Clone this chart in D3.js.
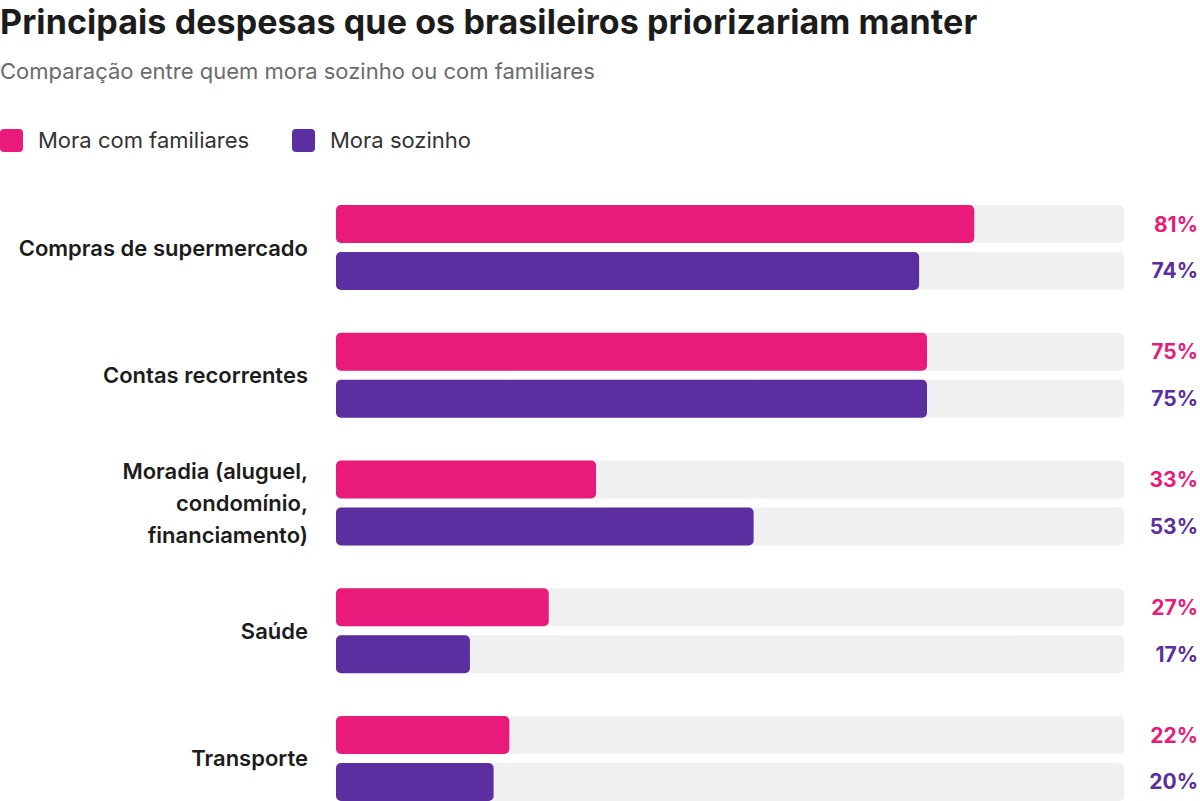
<!DOCTYPE html>
<html>
<head>
<meta charset="utf-8">
<script src="https://cdn.jsdelivr.net/npm/d3@7"></script>
<style>
  body { margin: 0; background: #fff; }
  svg { display: block; font-family: Inter, "Noto Sans", sans-serif; }
</style>
</head>
<body>
<svg id="chart" width="1200" height="801"></svg>
<script>
// Data
var categories = [
  "Compras de supermercado",
  "Contas recorrentes",
  "Moradia (aluguel,\ncondomínio,\nfinanciamento)",
  "Saúde",
  "Transporte"
];
var seriesNames = ["Mora com familiares", "Mora sozinho"];
var familiares = [81, 75, 33, 27, 22];
var sozinho = [74, 75, 53, 17, 20];

// Colors
var pink = "#e91b7a";
var purple = "#5c2fa0";
var track = "#f0f0f0";
var dark = "#1c1c1c";
var colors = [pink, purple];

var svg = d3.select("#chart");
var margin = { left: 336, right: 76, top: 205, bottom: 0 };
var W = 1200, H = 801;

var rows = categories.map(function(c, i) {
  return { name: c, values: [familiares[i], sozinho[i]] };
});

// Scales
var xScale = d3.scaleLinear()
               .domain([0, 100])
               .range([margin.left, W - margin.right]);
var yScale = d3.scaleBand()
               .domain(categories)
               .range([margin.top, H])
               .paddingInner(0.3346)
               .paddingOuter(0);
var ySub = d3.scaleBand()
             .domain([0, 1])
             .range([0, yScale.bandwidth()])
             .paddingInner(0.19)
             .paddingOuter(0);

// Title
svg.append("text")
   .attr("x", 0)
   .attr("y", 34)
   .style("font-size", "34px")
   .style("letter-spacing", "0.1px")
   .style("font-weight", 700)
   .style("fill", dark)
   .text("Principais despesas que os brasileiros priorizariam manter");
svg.append("text")
   .attr("x", 0)
   .attr("y", 79)
   .style("font-size", "22px")
   .style("fill", "#6b6b6b")
   .text("Comparação entre quem mora sozinho ou com familiares");

// Legend
var legendX = [0, 292];
var legend = svg.selectAll(".legendItem")
                .data(seriesNames)
                .enter()
                .append("g")
                .attr("class", "legendItem")
                .attr("transform", function(d, i) { return "translate(" + legendX[i] + ",129)"; });
legend.append("rect")
      .attr("width", 23)
      .attr("height", 23)
      .attr("rx", 4)
      .style("fill", function(d, i) { return colors[i]; });
legend.append("text")
      .attr("x", 38)
      .attr("y", 19)
      .style("font-size", "22px")
      .style("fill", "#333")
      .text(function(d) { return d; });

// Groups
var group = svg.selectAll(".group")
               .data(rows)
               .enter()
               .append("g")
               .attr("class", "group")
               .attr("transform", function(d) { return "translate(0," + yScale(d.name) + ")"; });

// Category labels (multi-line)
group.append("text")
     .attr("class", "catLabel")
     .attr("text-anchor", "end")
     .style("font-size", "22px")
     .style("font-weight", 600)
     .style("fill", dark)
     .each(function(d) {
       var lines = d.name.split("\n");
       var lh = 32;
       var mid = yScale.bandwidth() / 2;
       var t = d3.select(this);
       lines.forEach(function(l, k) {
         t.append("tspan")
          .attr("x", margin.left - 28)
          .attr("y", mid + 8 + (k - (lines.length - 1) / 2) * lh)
          .text(l);
       });
     });

// Bars
var bar = group.selectAll(".bar")
               .data(function(d) { return d.values; })
               .enter()
               .append("g")
               .attr("class", "bar")
               .attr("transform", function(d, i) { return "translate(0," + ySub(i) + ")"; });
bar.append("rect")
   .attr("x", xScale(0))
   .attr("width", xScale(100) - xScale(0))
   .attr("height", ySub.bandwidth())
   .attr("rx", 5)
   .style("fill", track);
bar.append("rect")
   .attr("x", xScale(0))
   .attr("width", function(d) { return xScale(d) - xScale(0); })
   .attr("height", ySub.bandwidth())
   .attr("rx", 5)
   .style("fill", function(d, i) { return colors[i]; });
bar.append("text")
   .attr("x", W - 2)
   .attr("y", ySub.bandwidth() / 2 + 7.5)
   .attr("text-anchor", "end")
   .style("font-size", "21px")
   .style("font-weight", 700)
   .style("fill", function(d, i) { return colors[i]; })
   .text(function(d) { return d + "%"; });
</script>
</body>
</html>
